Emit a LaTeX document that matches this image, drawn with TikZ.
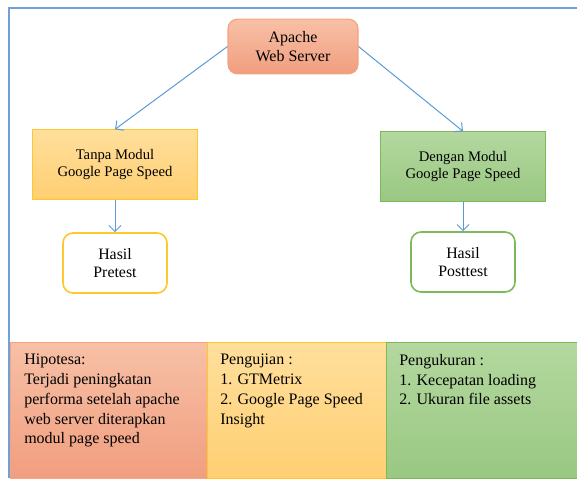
\documentclass[tikz,border=0pt]{standalone}
\usepackage{fontspec}
\setmainfont{Liberation Serif}
\usetikzlibrary{arrows.meta}

\definecolor{frameblue}{HTML}{6FA1D8}
\definecolor{arrowblue}{HTML}{5B9BD5}
\definecolor{orangetop}{HTML}{F7C0A6}
\definecolor{orangebot}{HTML}{F19E7F}
\definecolor{orangeline}{HTML}{F4A47F}
\definecolor{yellowtop}{HTML}{FFDF9C}
\definecolor{yellowbot}{HTML}{FFCF72}
\definecolor{yellowline}{HTML}{FFC72C}
\definecolor{greentop}{HTML}{B4D89F}
\definecolor{greenbot}{HTML}{99C882}
\definecolor{greenline}{HTML}{7DB85A}

\begin{document}
\begin{tikzpicture}[x=0.75pt, y=-0.75pt,
    flow/.style={draw=arrowblue, line width=0.75pt, -{Straight Barb[length=4.5pt,width=9pt]}},
    orangebox/.style={top color=orangetop, bottom color=orangebot, draw=orangeline, line width=0.8pt},
    yellowbox/.style={top color=yellowtop, bottom color=yellowbot, draw=yellowline, line width=0.8pt},
    greenbox/.style={top color=greentop, bottom color=greenbot, draw=greenline, line width=0.8pt},
    modulbox/.style={minimum width=124pt, minimum height=52pt, align=center, font=\fontsize{11}{12.5}\selectfont},
    resultbox/.style={fill=white, rounded corners=7.5pt, line width=1.2pt, minimum width=78pt, minimum height=45pt, align=center, font=\fontsize{11.9}{14}\selectfont},
    panel/.style={anchor=north west, minimum height=102pt, inner sep=0pt, line width=0.6pt},
    paneltext/.style={anchor=north west, align=left, inner sep=0pt, font=\fontsize{12}{14.8}\selectfont}]
    \useasboundingbox (0,0) rectangle (577,478);

    % outer frame
    \draw[frameblue, line width=1.3pt] (9,478) -- (9,8) -- (577,8);

    % top of the flow
    \node[orangebox, rounded corners=7pt, minimum width=97.5pt, minimum height=41pt, align=center,
          font=\fontsize{12}{14.5}\selectfont] (apache) at (293,46.5) {Apache\\Web Server};

    \node[yellowbox, modulbox] (tanpa) at (115,164.5) {Tanpa Modul\\Google Page Speed};
    \node[greenbox, modulbox] (dengan) at (463,166.5) {Dengan Modul\\Google Page Speed};

    \node[resultbox, draw=yellowline] (pretest) at (115,263) {Hasil\\Pretest};
    \node[resultbox, draw=greenline] (posttest) at (463,262) {Hasil\\Posttest};

    \draw[flow] (apache.west) -- (tanpa.north);
    \draw[flow] (apache.east) -- (dengan.north);
    \draw[flow] (tanpa) -- (pretest);
    \draw[flow] (dengan) -- (posttest);

    % bottom panels
    \node[panel, orangebox, minimum width=147.5pt] (hipotesa) at (10,342) {};
    \node[panel, yellowbox, minimum width=134pt] (pengujian) at (207,342) {};
    \node[panel, greenbox, minimum width=144pt] (pengukuran) at (386,342) {};

    \node[paneltext] (hipotesatext) at ([shift={(14,12)}]hipotesa.north west)
        {Hipotesa:\\Terjadi peningkatan\\performa setelah apache\\web server diterapkan\\modul page speed};
    \node[paneltext] (pengujiantext) at ([shift={(13,12)}]pengujian.north west)
        {Pengujian :\\1. GTMetrix\\2. Google Page Speed\\Insight};
    \node[paneltext] (pengukurantext) at ([shift={(13,12)}]pengukuran.north west)
        {Pengukuran :\\1. Kecepatan loading\\2. Ukuran file assets};
\end{tikzpicture}
\end{document}
